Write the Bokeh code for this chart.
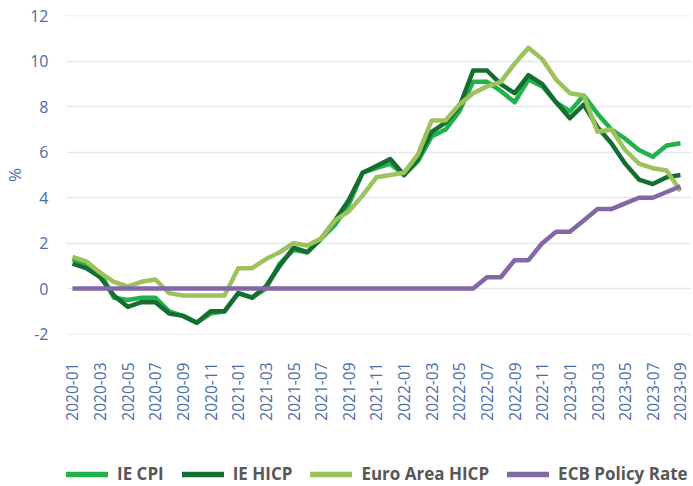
from bokeh.plotting import figure
from bokeh.layouts import column
from bokeh.models import FixedTicker, Range1d, Legend, LegendItem, ColumnDataSource
from bokeh.embed import file_html
from bokeh.resources import INLINE
import math

months = [f"{y}-{m:02d}" for y in (2020, 2021, 2022, 2023) for m in range(1, 13)][:45]

ie_cpi = [1.3, 1.1, 0.7, -0.4, -0.5, -0.4, -0.4, -1.0, -1.2, -1.5, -1.1, -1.0,
          -0.2, -0.4, 0.0, 1.1, 1.7, 1.6, 2.2, 2.8, 3.7, 5.1, 5.3, 5.5,
          5.0, 5.6, 6.7, 7.0, 7.8, 9.1, 9.1, 8.7, 8.2, 9.2, 8.9, 8.2,
          7.8, 8.5, 7.7, 7.0, 6.6, 6.1, 5.8, 6.3, 6.4]
ie_hicp = [1.1, 0.9, 0.5, -0.3, -0.8, -0.6, -0.6, -1.1, -1.2, -1.5, -1.0, -1.0,
           -0.2, -0.4, 0.1, 1.0, 1.8, 1.6, 2.2, 3.0, 3.9, 5.1, 5.4, 5.7,
           5.0, 5.7, 6.9, 7.3, 8.0, 9.6, 9.6, 9.0, 8.6, 9.4, 9.0, 8.2,
           7.5, 8.1, 7.1, 6.4, 5.5, 4.8, 4.6, 4.9, 5.0]
ea_hicp = [1.4, 1.2, 0.7, 0.3, 0.1, 0.3, 0.4, -0.2, -0.3, -0.3, -0.3, -0.3,
           0.9, 0.9, 1.3, 1.6, 2.0, 1.9, 2.2, 3.0, 3.4, 4.1, 4.9, 5.0,
           5.1, 5.9, 7.4, 7.4, 8.1, 8.6, 8.9, 9.1, 9.9, 10.6, 10.1, 9.2,
           8.6, 8.5, 6.9, 7.0, 6.1, 5.5, 5.3, 5.2, 4.3]
ecb_rate = [0.0] * 30 + [0.5, 0.5, 1.25, 1.25, 2.0, 2.5, 2.5, 3.0, 3.5, 3.5,
                         3.75, 4.0, 4.0, 4.25, 4.5]

series_names = ["IE CPI", "IE HICP", "Euro Area HICP", "ECB Policy Rate"]
series_colors = ["#22b24c", "#166d32", "#9cc25c", "#8467a8"]
y_ticks = [-2, 0, 2, 4, 6, 8, 10, 12]

x = list(range(len(months)))
src = ColumnDataSource(dict(x=x, ie_cpi=ie_cpi, ie_hicp=ie_hicp, ea_hicp=ea_hicp, ecb=ecb_rate))

p = figure(width=692, height=444, output_backend="svg", toolbar_location=None,
           x_range=Range1d(-0.43, 44.8), y_range=Range1d(-2.02, 12.02),
           min_border_left=61, min_border_right=1, min_border_top=15, min_border_bottom=110)
p.outline_line_color = None
p.background_fill_color = "white"
p.border_fill_color = "white"

for col, color in zip(["ie_cpi", "ie_hicp", "ea_hicp", "ecb"], series_colors):
    p.line("x", col, source=src, line_color=color, line_width=4.5, line_join="round")

p.xaxis.ticker = FixedTicker(ticks=x[::2])
p.xaxis.major_label_overrides = {i: months[i] for i in x[::2]}
p.xaxis.major_label_orientation = math.pi / 2
p.yaxis.ticker = FixedTicker(ticks=y_ticks)
p.yaxis.major_label_overrides = {v: str(v) for v in y_ticks}
for ax in (p.xaxis[0], p.yaxis[0]):
    ax.axis_line_color = None
    ax.major_tick_line_color = None
    ax.minor_tick_line_color = None
    ax.major_label_text_color = "#4c6ca6"
    ax.major_label_text_font = "Open Sans"
p.yaxis.major_label_text_font_size = "16px"
p.xaxis.major_label_text_font_size = "15.5px"
p.yaxis.major_label_standoff = 12
p.xaxis.major_label_standoff = 22
p.yaxis.axis_label = "%"
p.yaxis.axis_label_text_font = "Open Sans"
p.yaxis.axis_label_text_font_style = "normal"
p.yaxis.axis_label_text_font_size = "17px"
p.yaxis.axis_label_text_color = "#4c6ca6"
p.yaxis.axis_label_standoff = 1

p.xgrid.grid_line_color = None
p.ygrid.grid_line_color = "#e3e7ee"
p.ygrid.grid_line_width = 1.5

# legend strip (its frame is aligned with the chart's frame by the column layout)
lg = figure(width=692, height=40, output_backend="svg", toolbar_location=None,
            x_axis_type=None, y_axis_type=None, x_range=Range1d(0, 1), y_range=Range1d(0, 1),
            min_border=0)
lg.outline_line_color = None
lg.xgrid.grid_line_color = None
lg.ygrid.grid_line_color = None
items = []
for name, color in zip(series_names, series_colors):
    r = lg.line(x=[float("nan")], y=[float("nan")], line_color=color, line_width=5.5,
                line_cap="round")
    items.append(LegendItem(label=name, renderers=[r]))
legend = Legend(items=items, orientation="horizontal", location=(0, -1),
                glyph_width=42, glyph_height=20, label_standoff=9, spacing=18,
                padding=0, margin=0, border_line_color=None, background_fill_alpha=0,
                label_text_font="Open Sans", label_text_font_style="bold",
                label_text_font_size="17px", label_text_color="#575757")
lg.add_layout(legend, "center")

open("out.html", "w").write(file_html(column(p, lg, spacing=0), INLINE))
